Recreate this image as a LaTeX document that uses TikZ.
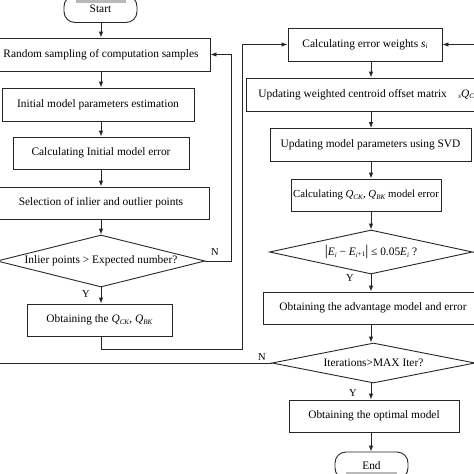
\documentclass[tikz,border=0pt]{standalone}
\usepackage{fontspec}
\setmainfont{Liberation Serif}
\usetikzlibrary{arrows.meta,shapes.geometric}
\newcommand{\sbs}[1]{\raisebox{-0.3ex}{\fontsize{7}{7}\selectfont\textit{#1}}}
\begin{document}
\begin{tikzpicture}[x=1pt,y=-1pt,
  ln/.style={draw=black!85, line width=0.9pt},
  box/.style={ln, rectangle, inner sep=0pt, font=\fontsize{11.4}{13}\selectfont},
  term/.style={box, rounded corners=11pt},
  dia/.style={ln, diamond, inner sep=0pt},
  txt/.style={inner sep=0pt, font=\fontsize{11.4}{13}\selectfont},
  lab/.style={inner sep=0pt, font=\fontsize{10.5}{12}\selectfont},
  arr/.style={ln, -{Latex[length=6pt,width=4.5pt]}}]
\useasboundingbox (0,0) rectangle (474,474);
\clip (0,0) rectangle (474,474);
\fill[white] (0,0) rectangle (474,474);
% left column
\node[term, minimum width=73pt, minimum height=27pt] (start) at (100.5,9) {Start};
\fill[gray!55] (76,-1) rectangle (126,2.5);
\node[box, minimum width=218pt, minimum height=33pt] (rand) at (101,54.5) {Random sampling of computation samples};
\node[box, minimum width=192pt, minimum height=33pt] (init) at (98,104.5) {Initial model parameters estimation};
\node[box, minimum width=176pt, minimum height=32pt] (cerr) at (101,153) {Calculating Initial model error};
\node[box, minimum width=216pt, minimum height=32pt] (sel) at (101,203) {Selection of inlier and outlier points};
\node[dia, minimum width=208pt, minimum height=52pt] (d1) at (101,261) {};
\node[txt] (d1t) at (101,261) {Inlier points > Expected number?};
\node[box, minimum width=145pt, minimum height=32pt] (oq) at (99.5,320) {Obtaining the \textit{Q}\sbs{CK}, \textit{Q}\sbs{BK}};
% right column
\node[box, minimum width=154pt, minimum height=33pt] (ew) at (365,44.5) {Calculating error weights \textit{s}\sbs{i}};
\node[box, anchor=west, minimum height=33pt, inner xsep=12pt] (cent) at (246,94.5) {Updating weighted centroid offset matrix\quad\sbs{s}\textit{Q}\sbs{CK}\quad};
\node[box, minimum width=201pt, minimum height=33pt] (svd) at (370.5,145) {Updating model parameters using SVD};
\node[box, minimum width=150pt, minimum height=32pt, font=\fontsize{10.8}{13}\selectfont] (cq) at (366,195) {Calculating \textit{Q}\sbs{CK}, \textit{Q}\sbs{BK} model error};
\node[dia, minimum width=203pt, minimum height=44pt] (d2) at (371,252) {};
\node[txt] (d2t) at (371,252) {{\fontsize{15}{15}\selectfont|}\textit{E}\sbs{i} − \textit{E}\sbs{i}{\fontsize{7}{7}\selectfont\raisebox{-0.3ex}{+1}}{\fontsize{15}{15}\selectfont|} ≤ 0.05\textit{E}\sbs{i} ?};
\node[box, minimum width=220pt, minimum height=32pt] (adv) at (373,308) {Obtaining the advantage model and error};
\node[dia, minimum width=203pt, minimum height=40pt] (d3) at (373.5,363) {};
\node[txt] (d3t) at (373.5,363) {Iterations>MAX Iter?};
\node[box, minimum width=170pt, minimum height=32pt] (opt) at (374,416) {Obtaining the optimal model};
\node[term, minimum width=73pt, minimum height=27pt] (end) at (371.5,465.5) {End};
\fill[gray!55] (346,471.5) rectangle (397,476);
% column guides
\coordinate (cL) at (101,0);
\coordinate (cR) at (371,0);
% arrows left
\draw[arr] (start.south -| cL) -- (rand.north -| cL);
\draw[arr] (rand.south -| cL) -- (init.north -| cL);
\draw[arr] (init.south -| cL) -- (cerr.north -| cL);
\draw[arr] (cerr.south -| cL) -- (sel.north -| cL);
\draw[arr] (sel.south -| cL) -- (d1.north -| cL);
\draw[arr] (d1.south -| cL) -- (oq.north -| cL);
\coordinate (n1) at (231,261);
\draw[arr] (d1.east) -- (n1) |- (rand.east);
\coordinate (lA) at (242,349);
\draw[arr] (oq.south -| cL) |- (lA) |- (ew.west);
% arrows right
\draw[arr] (ew.south -| cR) -- (cent.north -| cR);
\draw[arr] (cent.south -| cR) -- (svd.north -| cR);
\draw[arr] (svd.south -| cR) -- (cq.north -| cR);
\draw[arr] (cq.south -| cR) -- (d2.north -| cR);
\draw[arr] (d2.south -| cR) -- (adv.north -| cR);
\draw[arr] (adv.south -| cR) -- (d3.north -| cR);
\draw[arr] (d3.south -| cR) -- (opt.north -| cR);
\draw[arr] (opt.south -| cR) -- (end.north -| cR);
\coordinate (n2) at (492,252);
\draw[arr] (d2.east) -- (n2) |- (ew.east);
\coordinate (n3) at (-10,363);
\draw[ln] (d3.west) -- (n3);
% labels
\node[lab] (lN1) at (215,252) {N};
\node[lab] (lY1) at (86,294) {Y};
\node[lab] (lY2) at (350,278) {Y};
\node[lab] (lN3) at (262,357) {N};
\node[lab] (lY3) at (353,393) {Y};
\end{tikzpicture}
\end{document}
